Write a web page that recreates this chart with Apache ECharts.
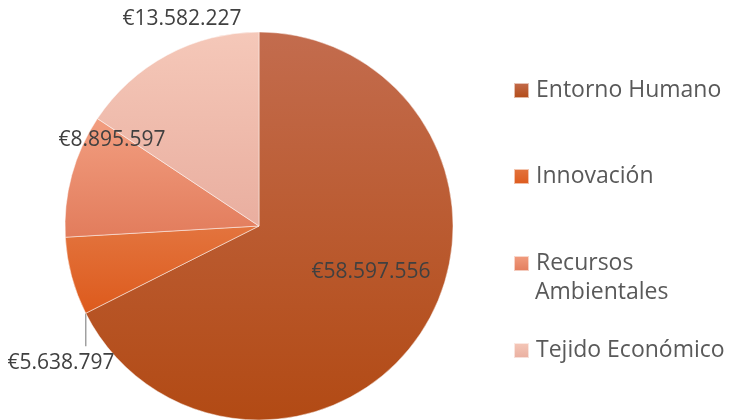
<!DOCTYPE html>
<html>
<head>
<meta charset="utf-8">
<script src="https://cdn.jsdelivr.net/npm/echarts@6/dist/echarts.min.js"></script>
<style>
  html, body { margin: 0; padding: 0; background: #ffffff; }
  #chart { width: 730px; height: 420px; }
</style>
</head>
<body>
<div id="chart"></div>
<script>
// Presupuesto por eje
const categories = ['Entorno Humano', 'Innovación', 'Recursos Ambientales', 'Tejido Económico'];
const values = [58597556, 5638797, 8895597, 13582227];
const legendNames = ['Entorno Humano', 'Innovación', 'Recursos', 'Tejido Económico'];

// top / bottom colours of each slice's vertical gradient
const topColors = ['#C36C4E', '#E3743E', '#F29E80', '#F5C8B9'];
const bottomColors = ['#B24A14', '#DD5A1C', '#E27C5C', '#E9AE9F'];

const FONT = '"Open Sans", sans-serif';
const CX = 259, CY = 226, R = 194;

function euro(v) {
  return '€' + String(v).replace(/\B(?=(\d{3})+(?!\d))/g, '.');
}

function grad(i) {
  return new echarts.graphic.LinearGradient(0, 0, 0, 1, [
    { offset: 0, color: topColors[i] },
    { offset: 1, color: bottomColors[i] }
  ]);
}

const total = values.reduce((a, b) => a + b, 0);
// angle (clockwise from 12 o'clock) where each slice ends
const endAngles = [];
values.reduce((acc, v) => { acc += v; endAngles.push(acc / total * 2 * Math.PI); return acc; }, 0);

// label anchor positions
const labelPos = [
  { x: 371, y: 272 },
  { x: 61, y: 363 },
  { x: 112, y: 140 },
  { x: 182, y: 19 }
];

const chart = echarts.init(document.getElementById('chart'), null, { renderer: 'canvas' });

const legendTops = [74, 160, 247, 334];
const legends = legendNames.map((n, i) => ({
  orient: 'vertical',
  left: 508,
  top: legendTops[i],
  itemWidth: 15,
  itemHeight: 15,
  itemGap: 0,
  icon: 'rect',
  selectedMode: false,
  data: [{ name: categories[i], itemStyle: { color: grad(i) } }],
  formatter: () => n,
  textStyle: { fontFamily: FONT, fontSize: 23, color: '#595959', padding: [0, 0, 0, 2] }
}));

const a = endAngles[0];
const ex = CX + R * Math.sin(a);
const ey = CY - R * Math.cos(a);

chart.setOption({
  animation: false,
  backgroundColor: '#ffffff',
  legend: legends,
  graphic: [{
    type: 'text',
    left: 535,
    top: 281,
    style: { text: 'Ambientales', fontFamily: FONT, fontSize: 23, fill: '#595959' }
  }, {
    // leader line for the small slice: from its starting edge straight down to the label
    type: 'line',
    shape: { x1: ex, y1: ey, x2: ex, y2: ey + 33 },
    style: { stroke: '#A0A0A0', lineWidth: 1.5 }
  }],
  series: [{
    type: 'pie',
    center: [CX, CY],
    radius: [0, R],
    startAngle: 90,
    clockwise: true,
    avoidLabelOverlap: false,
    itemStyle: { borderColor: 'rgba(255,255,255,0.6)', borderWidth: 0.8 },
    label: {
      show: true,
      formatter: p => euro(p.value),
      fontFamily: FONT,
      fontSize: 21,
      color: '#404040'
    },
    labelLine: { show: false },
    labelLayout: function (params) {
      const i = params.dataIndex;
      return { x: labelPos[i].x, y: labelPos[i].y, align: 'center', verticalAlign: 'middle' };
    },
    data: categories.map((c, i) => ({
      name: c,
      value: values[i],
      itemStyle: { color: grad(i) }
    }))
  }]
});
</script>
</body>
</html>
